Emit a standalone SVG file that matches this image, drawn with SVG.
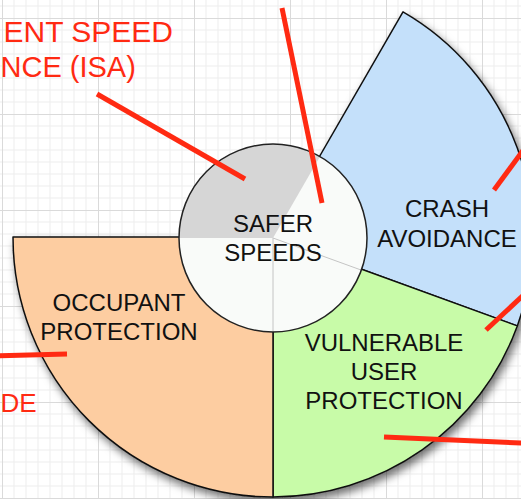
<svg xmlns="http://www.w3.org/2000/svg" width="521" height="499" viewBox="0 0 521 499">
  <defs>
    <pattern id="grid" x="2" y="18" width="96" height="96" patternUnits="userSpaceOnUse">
      <path d="M12 0V96M24 0V96M36 0V96M48 0V96M60 0V96M72 0V96M84 0V96M0 12H96M0 24H96M0 36H96M0 48H96M0 60H96M0 72H96M0 84H96" stroke="#ededed" stroke-width="1" fill="none"/>
      <path d="M0.5 0V96M0 0.5H96" stroke="#dadada" stroke-width="1" fill="none"/>
    </pattern>
    <filter id="shadow" x="-20%" y="-20%" width="140%" height="140%">
      <feDropShadow dx="3" dy="5" stdDeviation="4" flood-color="#000" flood-opacity="0.55"/>
    </filter>
    <style>
      .sector { stroke: #111; stroke-width: 1.5; stroke-linejoin: round; }
      .label { font-family: "Liberation Sans", Arial, Helvetica, sans-serif; font-size: 24px; fill: #111; text-anchor: middle; }
      .red { font-family: "Liberation Sans", Arial, Helvetica, sans-serif; font-size: 30px; fill: #ff2a12; }
      .callout { stroke: #ff2a12; stroke-width: 5; fill: none; }
      .divider { stroke: #c4c4c4; stroke-width: 1; fill: none; }
    </style>
  </defs>

  <rect width="521" height="499" fill="#ffffff"/>
  <rect width="521" height="499" fill="url(#grid)"/>

  <g id="outer-ring" filter="url(#shadow)">
    <g id="node-crash-avoidance">
      <path class="sector" d="M273 237 L403 11.8 A260 260 0 0 1 517.3 325.9 Z" fill="#c4e0fa"/>
    </g>
    <g id="node-vulnerable-user-protection">
      <path class="sector" d="M273 237 L517.3 325.9 A260 260 0 0 1 273 497 Z" fill="#c8fba8"/>
    </g>
    <g id="node-occupant-protection">
      <path class="sector" d="M273 237 L273 497 A260 260 0 0 1 13 237 Z" fill="#fdcda1"/>
    </g>
  </g>

  <g id="node-safer-speeds">
    <circle cx="273" cy="238" r="94" fill="#f9fbf9"/>
    <path d="M273 238 L179 238 A94 94 0 0 1 320 156.6 Z" fill="#d6d6d6"/>
    <path class="divider" d="M273 238 L361.3 270.1 M273 238 L273 332"/>
    <circle cx="273" cy="238" r="94" fill="none" stroke="#222" stroke-width="1.5"/>
    <text class="label" x="273" y="232">SAFER</text>
    <text class="label" x="273" y="261">SPEEDS</text>
  </g>

  <g id="labels">
    <text class="label" x="447" y="217">CRASH</text>
    <text class="label" x="447" y="247">AVOIDANCE</text>
    <text class="label" x="119" y="311">OCCUPANT</text>
    <text class="label" x="119" y="340">PROTECTION</text>
    <text class="label" x="384" y="351">VULNERABLE</text>
    <text class="label" x="384" y="380">USER</text>
    <text class="label" x="384" y="409">PROTECTION</text>
  </g>

  <g id="node-isa-label">
    <text class="red" x="173" y="42" text-anchor="end">ENT SPEED</text>
    <text class="red" x="0.5" y="77" style="font-size:29px">NCE (ISA)</text>
  </g>
  <g id="node-de-label">
    <text class="red" x="0.5" y="412" style="font-size:26px">DE</text>
  </g>

  <g id="connectors">
    <line class="callout" x1="97" y1="94" x2="245" y2="179"/>
    <line class="callout" x1="282" y1="8" x2="322" y2="203"/>
    <line class="callout" x1="530" y1="141" x2="494" y2="190"/>
    <line class="callout" x1="530" y1="289" x2="486" y2="330"/>
    <line class="callout" x1="384" y1="437" x2="530" y2="443.5"/>
    <line class="callout" x1="-10" y1="356" x2="67" y2="354"/>
  </g>
</svg>
